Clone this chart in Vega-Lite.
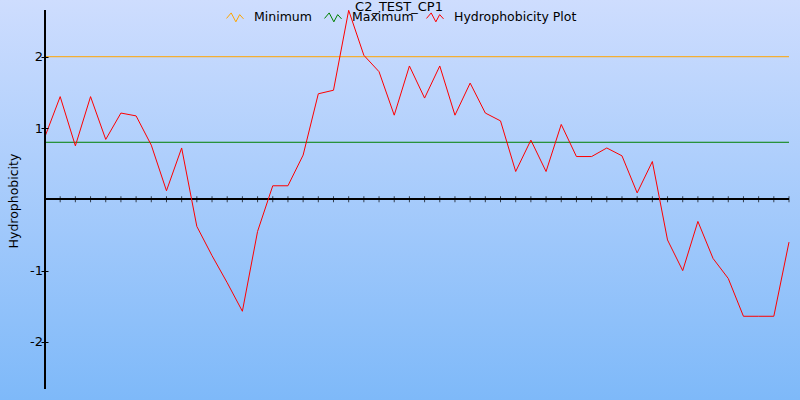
{
  "$schema": "https://vega.github.io/schema/vega-lite/v6.json",
  "width": 744,
  "height": 379,
  "autosize": {"type": "none"},
  "padding": {"left": 45, "top": 10, "right": 11, "bottom": 11},
  "background": "#a8cbfc",
  "title": {"text": "C2_TEST_CP1", "fontSize": 13, "font": "DejaVu Sans", "fontWeight": "normal", "color": "black", "anchor": "middle", "frame": "group", "dx": -18, "dy": 14, "offset": 0, "zindex": 1},
  "config": {
    "font": "DejaVu Sans",
    "view": {"stroke": null},
    "legend": {"zindex": 1}
  },
  "data": {"values": [
    {"series": "Minimum", "i": 0, "v": 2},
    {"series": "Minimum", "i": 49, "v": 2},
    {"series": "Maximum", "i": 0, "v": 0.8},
    {"series": "Maximum", "i": 49, "v": 0.8},
    {"series": "Hydrophobicity Plot", "i": 0, "v": 0.88},
    {"series": "Hydrophobicity Plot", "i": 1, "v": 1.44},
    {"series": "Hydrophobicity Plot", "i": 2, "v": 0.75},
    {"series": "Hydrophobicity Plot", "i": 3, "v": 1.44},
    {"series": "Hydrophobicity Plot", "i": 4, "v": 0.84},
    {"series": "Hydrophobicity Plot", "i": 5, "v": 1.21},
    {"series": "Hydrophobicity Plot", "i": 6, "v": 1.17},
    {"series": "Hydrophobicity Plot", "i": 7, "v": 0.76},
    {"series": "Hydrophobicity Plot", "i": 8, "v": 0.12},
    {"series": "Hydrophobicity Plot", "i": 9, "v": 0.72},
    {"series": "Hydrophobicity Plot", "i": 10, "v": -0.38},
    {"series": "Hydrophobicity Plot", "i": 11, "v": -0.79},
    {"series": "Hydrophobicity Plot", "i": 12, "v": -1.17},
    {"series": "Hydrophobicity Plot", "i": 13, "v": -1.57},
    {"series": "Hydrophobicity Plot", "i": 14, "v": -0.45},
    {"series": "Hydrophobicity Plot", "i": 15, "v": 0.19},
    {"series": "Hydrophobicity Plot", "i": 16, "v": 0.19},
    {"series": "Hydrophobicity Plot", "i": 17, "v": 0.62},
    {"series": "Hydrophobicity Plot", "i": 18, "v": 1.48},
    {"series": "Hydrophobicity Plot", "i": 19, "v": 1.53},
    {"series": "Hydrophobicity Plot", "i": 20, "v": 2.65},
    {"series": "Hydrophobicity Plot", "i": 21, "v": 2.02},
    {"series": "Hydrophobicity Plot", "i": 22, "v": 1.79},
    {"series": "Hydrophobicity Plot", "i": 23, "v": 1.18},
    {"series": "Hydrophobicity Plot", "i": 24, "v": 1.87},
    {"series": "Hydrophobicity Plot", "i": 25, "v": 1.42},
    {"series": "Hydrophobicity Plot", "i": 26, "v": 1.87},
    {"series": "Hydrophobicity Plot", "i": 27, "v": 1.18},
    {"series": "Hydrophobicity Plot", "i": 28, "v": 1.63},
    {"series": "Hydrophobicity Plot", "i": 29, "v": 1.21},
    {"series": "Hydrophobicity Plot", "i": 30, "v": 1.10},
    {"series": "Hydrophobicity Plot", "i": 31, "v": 0.39},
    {"series": "Hydrophobicity Plot", "i": 32, "v": 0.83},
    {"series": "Hydrophobicity Plot", "i": 33, "v": 0.39},
    {"series": "Hydrophobicity Plot", "i": 34, "v": 1.05},
    {"series": "Hydrophobicity Plot", "i": 35, "v": 0.60},
    {"series": "Hydrophobicity Plot", "i": 36, "v": 0.60},
    {"series": "Hydrophobicity Plot", "i": 37, "v": 0.72},
    {"series": "Hydrophobicity Plot", "i": 38, "v": 0.61},
    {"series": "Hydrophobicity Plot", "i": 39, "v": 0.09},
    {"series": "Hydrophobicity Plot", "i": 40, "v": 0.53},
    {"series": "Hydrophobicity Plot", "i": 41, "v": -0.57},
    {"series": "Hydrophobicity Plot", "i": 42, "v": -1.00},
    {"series": "Hydrophobicity Plot", "i": 43, "v": -0.31},
    {"series": "Hydrophobicity Plot", "i": 44, "v": -0.83},
    {"series": "Hydrophobicity Plot", "i": 45, "v": -1.11},
    {"series": "Hydrophobicity Plot", "i": 46, "v": -1.64},
    {"series": "Hydrophobicity Plot", "i": 47, "v": -1.64},
    {"series": "Hydrophobicity Plot", "i": 48, "v": -1.64},
    {"series": "Hydrophobicity Plot", "i": 49, "v": -0.60}
  ]},
  "layer": [
    {
      "data": {"values": [{}]},
      "mark": {"type": "rect", "clip": false, "fill": {"gradient": "linear", "x1": 0, "y1": 0, "x2": 0, "y2": 1, "stops": [{"offset": 0, "color": "#CEDDFE"}, {"offset": 1, "color": "#7EB9F9"}]}},
      "encoding": {
        "x": {"datum": -3, "type": "quantitative", "axis": null},
        "x2": {"datum": 49.8},
        "y": {"datum": 2.8, "type": "quantitative"},
        "y2": {"datum": -2.82}
      }
    },
    {
      "mark": {"type": "rule", "color": "black", "strokeWidth": 1},
      "encoding": {"y": {"datum": 0, "type": "quantitative"}}
    },
    {
      "transform": [{"filter": {"field": "series", "equal": "Hydrophobicity Plot"}}],
      "mark": {"type": "tick", "orient": "vertical", "size": 6, "thickness": 1, "color": "black"},
      "encoding": {
        "x": {"field": "i", "type": "quantitative", "axis": null},
        "y": {"datum": 0, "type": "quantitative"}
      }
    },
    {
      "mark": {"type": "line", "strokeWidth": 1},
      "encoding": {
        "x": {"field": "i", "type": "quantitative", "axis": null, "scale": {"domain": [0, 49], "nice": false, "zero": false}},
        "y": {"field": "v", "type": "quantitative",
          "scale": {"domain": [-2.66, 2.655], "nice": false, "zero": false},
          "axis": {"values": [-2, -1, 1, 2], "labelExpr": "'' + datum.value", "offset": -3, "domain": false, "grid": false, "tickSize": 7, "tickColor": "black", "labelColor": "black", "labelFontSize": 13, "labelPadding": -1.5, "title": "Hydrophobicity", "titleFontSize": 12.5, "titleFontWeight": "normal", "titleColor": "black", "titleX": -34.5, "titleY": 190.5, "titleAlign": "center", "titleBaseline": "middle", "zindex": 1}},
        "color": {"field": "series", "type": "nominal",
          "scale": {"domain": ["Minimum", "Maximum", "Hydrophobicity Plot"], "range": ["#FFA500", "#008000", "#FF0000"]},
          "legend": {"orient": "none", "direction": "horizontal", "legendX": 181, "legendY": -2, "title": null, "symbolType": "M-1,0.15L-0.45,-0.5L0.1,0.55L0.55,-0.3L1,0.2", "symbolSize": 289, "symbolStrokeWidth": 1, "symbolFillColor": "transparent", "labelFontSize": 12.5, "labelColor": "black", "labelOffset": 10, "columnPadding": 10}}
      }
    },
    {
      "mark": {"type": "rule", "color": "black", "strokeWidth": 1},
      "encoding": {"x": {"datum": 0, "type": "quantitative"}}
    }
  ]
}
